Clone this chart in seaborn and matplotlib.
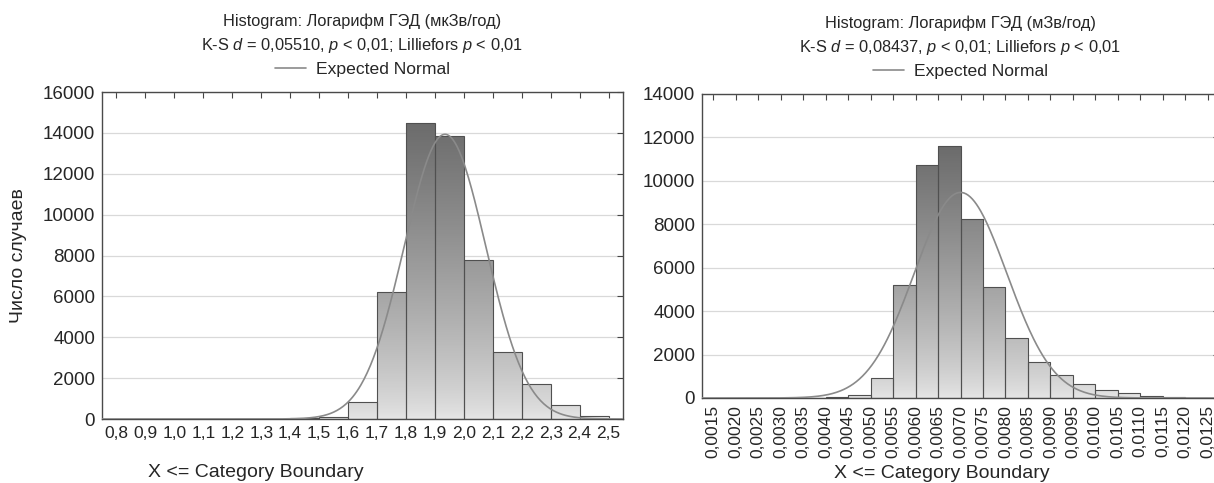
import numpy as np
import pandas as pd
import matplotlib
matplotlib.use('Agg')
import matplotlib.pyplot as plt
from matplotlib.colors import LinearSegmentedColormap, PowerNorm
import seaborn as sns

# left panel: log of annual effective dose (uSv/yr), counts per "X <= boundary" class
LOG_BOUNDS = [0.8, 0.9, 1.0, 1.1, 1.2, 1.3, 1.4, 1.5, 1.6, 1.7, 1.8, 1.9, 2.0, 2.1, 2.2, 2.3, 2.4, 2.5]
LOG_COUNTS = [0, 0, 0, 0, 0, 0, 20, 50, 100, 850, 6200, 14500, 13850, 7800, 3300, 1720, 670, 170]
LOG_MEAN = 1.935
LOG_SD = 0.141
LOG_TITLE = "Histogram: Логарифм ГЭД (мкЗв/год)\nK-S $d$ = 0,05510, $p$ < 0,01; Lilliefors $p$ < 0,01"

# right panel: annual effective dose (mSv/yr)
DOSE_BOUNDS = [0.0015, 0.0020, 0.0025, 0.0030, 0.0035, 0.0040, 0.0045, 0.0050, 0.0055, 0.0060,
               0.0065, 0.0070, 0.0075, 0.0080, 0.0085, 0.0090, 0.0095, 0.0100, 0.0105, 0.0110,
               0.0115, 0.0120, 0.0125]
DOSE_COUNTS = [0, 0, 0, 0, 0, 15, 25, 130, 900, 5200,
               10750, 11600, 8250, 5100, 2780, 1650, 1080, 650, 370, 230,
               110, 35, 10]
DOSE_MEAN = 0.0070
DOSE_SD = 0.00103
DOSE_TITLE = "Histogram: Логарифм ГЭД (мЗв/год)\nK-S $d$ = 0,08437, $p$ < 0,01; Lilliefors $p$ < 0,01"

sns.set_style("white")
plt.rcParams['font.family'] = ['Liberation Sans', 'DejaVu Sans']
plt.rcParams['mathtext.fontset'] = 'custom'
plt.rcParams['mathtext.rm'] = 'Liberation Sans'
plt.rcParams['mathtext.it'] = 'Liberation Sans:italic'

GRAD = LinearSegmentedColormap.from_list('grad', ['#e6e6e6', '#6c6c6c'])


def draw_panel(ax, bounds, counts, bw, mean, sd, xlim, ymax, title, fmt, rot, xlab_pos):
    bounds = np.array(bounds)
    counts = np.array(counts)
    df = pd.DataFrame({'x': bounds - bw / 2, 'n': counts})
    edges = np.append(bounds[0] - bw, bounds)
    sns.histplot(data=df, x='x', weights='n', bins=list(edges), ax=ax, stat='count',
                 color='#aaaaaa', edgecolor='#505050', linewidth=0.8, alpha=1, zorder=2)

    # vertical gray gradient inside every bar
    norm = PowerNorm(0.75, 0, counts.max())
    for p in list(ax.patches):
        p.set_facecolor('none')
        h = p.get_height()
        if h <= 0:
            continue
        x0, w = p.get_x(), p.get_width()
        grad = np.linspace(0, h, 120)[:, None]
        im = ax.imshow(grad, extent=(x0, x0 + w, 0, h), origin='lower', aspect='auto',
                       cmap=GRAD, norm=norm, zorder=1.9, interpolation='bilinear')
        im.set_clip_path(p)

    xs = np.linspace(xlim[0], xlim[1], 500)
    ys = counts.sum() * bw * np.exp(-0.5 * ((xs - mean) / sd) ** 2) / (sd * np.sqrt(2 * np.pi))
    sns.lineplot(x=xs, y=ys, ax=ax, color='#8a8a8a', linewidth=1.2, label='Expected Normal', zorder=3)

    ax.set_xlim(*xlim)
    ax.set_ylim(0, ymax)
    ax.set_xticks(bounds)
    ax.set_xticklabels([fmt.format(b).replace('.', ',') for b in bounds], rotation=rot, fontsize=12.5)
    ax.set_yticks(np.arange(0, ymax + 1, 2000))
    ax.set_yticklabels([str(v) for v in np.arange(0, ymax + 1, 2000)], fontsize=13.5)
    ax.tick_params(axis='both', direction='in', length=4, width=0.8, color='#444444',
                   top=True, right=True, pad=5)
    ax.yaxis.grid(True, color='#d9d9d9', linewidth=0.9)
    ax.set_axisbelow(True)
    for s in ax.spines.values():
        s.set_color('#4a4a4a')
        s.set_linewidth(1.0)

    ax.set_title(title, fontsize=11.8, pad=30, linespacing=1.55)
    ax.legend(loc='lower center', bbox_to_anchor=(0.5, 1.0), frameon=False, fontsize=12.6,
              handlelength=1.8, handletextpad=0.6, borderaxespad=0.45)
    ax.set_ylabel('')
    ax.set_xlabel('X <= Category Boundary', fontsize=14)
    ax.xaxis.set_label_coords(*xlab_pos)
    ax.xaxis.label.set_va('center')


fig = plt.figure(figsize=(12.14, 4.83), dpi=100)
ax1 = fig.add_axes([102 / 1214, 1 - 419 / 483, 521 / 1214, 327 / 483])
ax2 = fig.add_axes([702 / 1214, 1 - 398 / 483, 517 / 1214, 304 / 483])

draw_panel(ax1, LOG_BOUNDS, LOG_COUNTS, 0.1, LOG_MEAN, LOG_SD, (0.75, 2.55), 16000,
           LOG_TITLE, '{:.1f}', 0, (0.296, -0.165))
draw_panel(ax2, DOSE_BOUNDS, DOSE_COUNTS, 0.0005, DOSE_MEAN, DOSE_SD, (0.00125, 0.01275), 14000,
           DOSE_TITLE, '{:.4f}', 90, (0.464, -0.25))

ax1.set_ylabel('Число случаев', fontsize=14)
ax1.yaxis.set_label_coords(-0.161, 0.5)
ax1.yaxis.label.set_va('center')

fig.savefig('out.png', dpi=100)
